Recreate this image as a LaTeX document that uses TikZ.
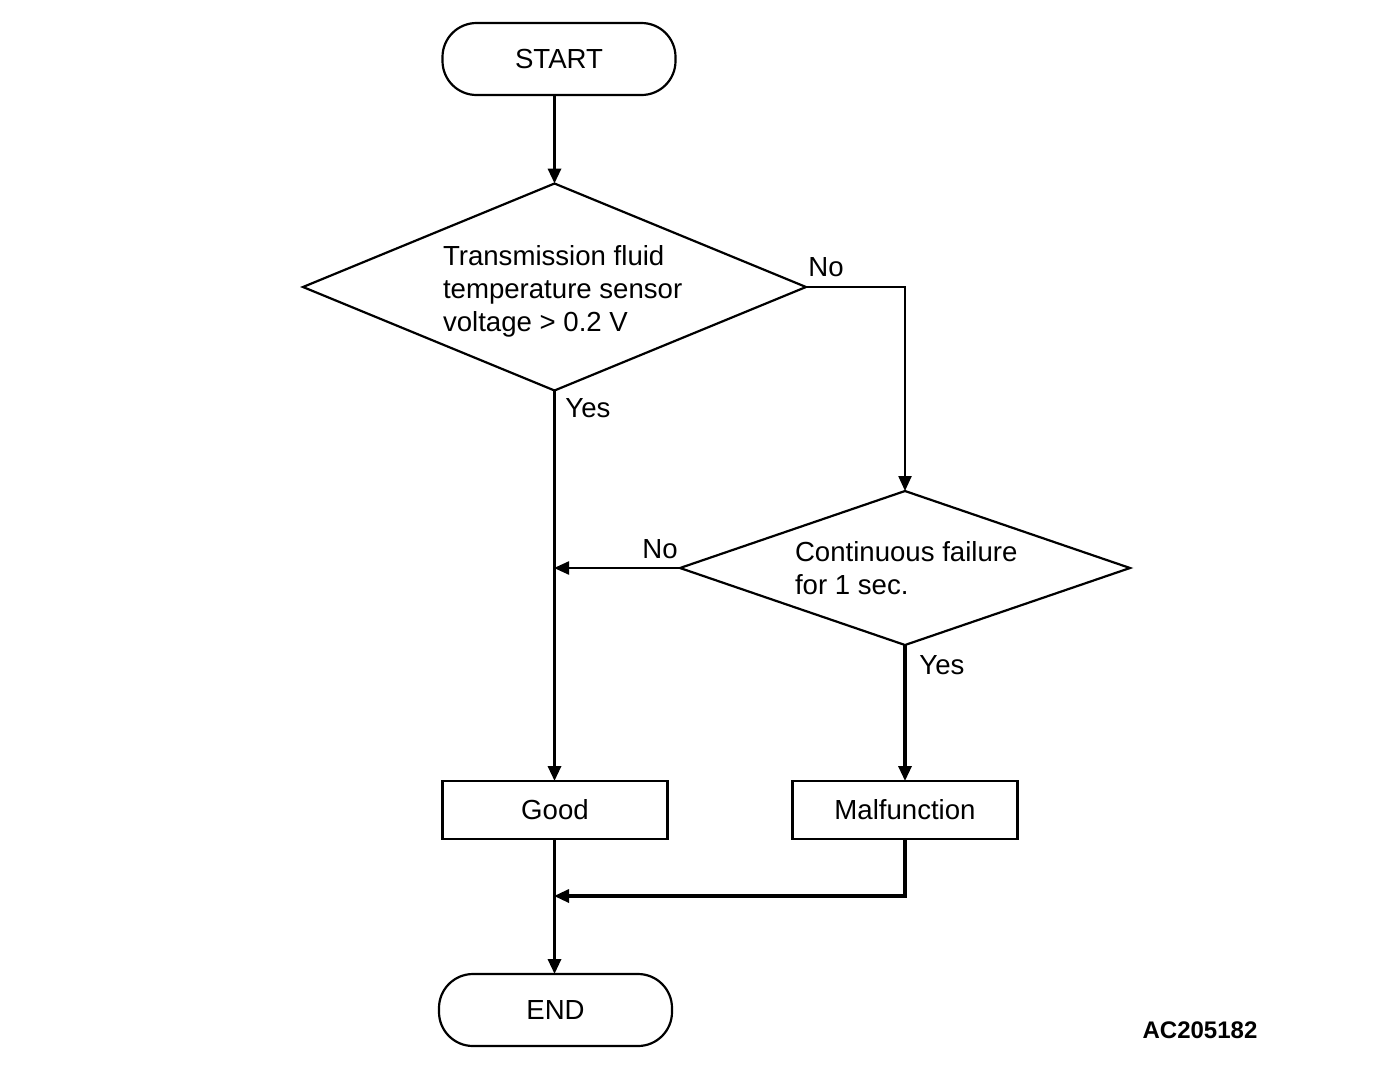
\documentclass[tikz,border=0pt]{standalone}
\usepackage{fontspec}
\setmainfont{Liberation Sans}
\usetikzlibrary{shapes.geometric,arrows.meta}
\begin{document}
\begin{tikzpicture}[x=1pt,y=-1pt,
  every node/.style={inner sep=0pt,outer sep=0pt},
  txt/.style={font=\fontsize{27.6}{33}\selectfont},
  term/.style={draw,line width=2.2pt,rounded corners=34pt,minimum width=233pt,minimum height=72pt,txt},
  box/.style={draw,line width=2.2pt,minimum width=225pt,minimum height=58pt,txt},
  dia/.style={draw,diamond,line width=2.2pt},
  thick line/.style={line width=3.2pt},
  thin line/.style={line width=2.3pt},
  tip/.style={-{Triangle[length=15pt,width=13pt]}}
]
\useasboundingbox (0,0) rectangle (1376,1090);
\node[term] (start) at (559,59) {START};
\node[dia,minimum width=503pt,minimum height=207pt] (d1) at (554.5,287) {};
\node[txt,anchor=west,align=left] (t1) at (443,291.5) {Transmission fluid\\temperature sensor\\voltage > 0.2 V};
\node[dia,minimum width=450pt,minimum height=154pt] (d2) at (905,568) {};
\node[txt,anchor=west,align=left] (t2) at (795,568.5) {Continuous failure\\for 1 sec.};
\node[box] (good) at (555,810) {Good};
\node[box] (mal) at (905,810) {Malfunction};
\node[term] (end) at (555.5,1010) {END};
\node[txt] (no1) at (826,267) {No};
\node[txt] (yes1) at (588,408) {Yes};
\node[txt] (no2) at (660,549) {No};
\node[txt] (yes2) at (942,665) {Yes};
\node[font=\bfseries\fontsize{24}{28}\selectfont] (code) at (1200,1030) {AC205182};
\coordinate (j1) at (554,568);
\coordinate (j2) at (554,896);
\draw[thick line,tip] (start.south -| d1.north) -- (d1.north);
\draw[thin line,tip] (d1.east) -| (d2.north);
\draw[thick line,tip] (d1.south) -- (d1.south |- good.north);
\draw[thin line,tip] (d2.west) -- (j1);
\draw[thick line,tip] (d2.south) -- (mal.north);
\draw[thick line,tip] (mal.south) |- (j2);
\draw[thick line,tip] (good.south -| d1.south) -- (d1.south |- end.north);
\end{tikzpicture}
\end{document}
